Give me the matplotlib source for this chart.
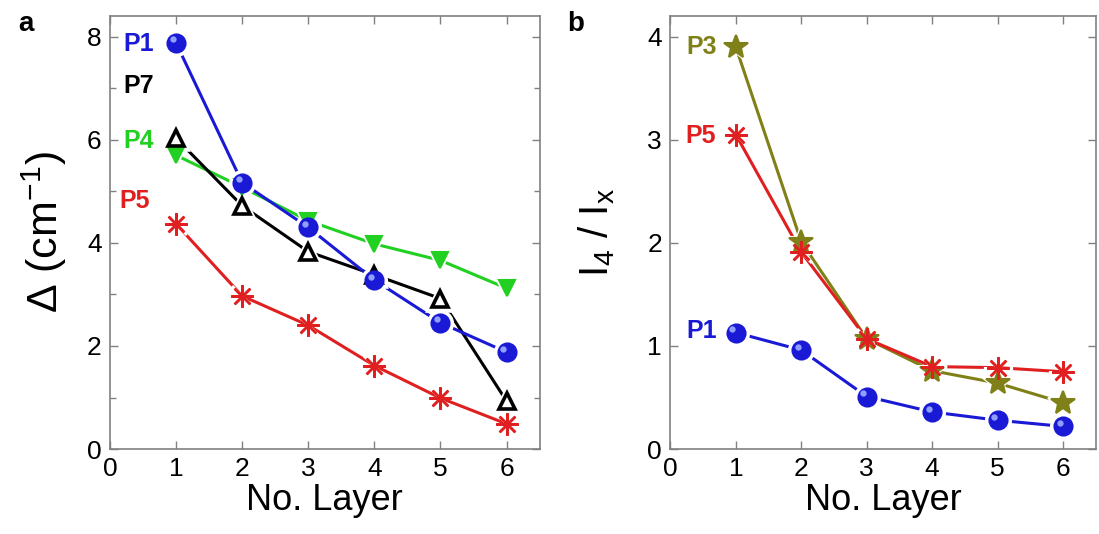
import matplotlib
matplotlib.use("Agg")
import matplotlib.pyplot as plt
from matplotlib.ticker import MultipleLocator
import matplotlib.transforms as mtransforms

plt.rcParams['font.family'] = ['Liberation Sans', 'DejaVu Sans']
plt.rcParams['mathtext.fontset'] = 'custom'
plt.rcParams['mathtext.rm'] = 'Liberation Sans'
plt.rcParams['mathtext.it'] = 'Liberation Sans'

layers = [1, 2, 3, 4, 5, 6]

# Panel a: Delta (cm^-1)
a_P1 = [7.88, 5.17, 4.30, 3.28, 2.45, 1.88]
a_P7 = [6.03, 4.72, 3.83, 3.38, 2.92, 0.93]
a_P4 = [5.70, 5.08, 4.43, 3.98, 3.66, 3.12]
a_P5 = [4.37, 2.97, 2.40, 1.62, 0.99, 0.49]

# Panel b: I4 / Ix
b_P3 = [3.90, 2.01, 1.07, 0.76, 0.64, 0.45]
b_P5 = [3.05, 1.91, 1.07, 0.80, 0.79, 0.75]
b_P1 = [1.13, 0.96, 0.51, 0.36, 0.28, 0.22]

xticks = [0, 1, 2, 3, 4, 5, 6]

BLUE = '#1a1ad6'
BLACK = '#000000'
GREEN = '#22d022'
RED = '#e02020'
OLIVE = '#808018'
SPINE = '#808080'

ASTER = (8, 2, 0)

fig = plt.figure(figsize=(10.99, 5.34), dpi=100)
axa = fig.add_axes([0.100, 0.159, 0.391, 0.811])
axb = fig.add_axes([0.610, 0.159, 0.387, 0.811])


def series(ax, y, color, marker, ms, fill=None, mew=1.5, halo=True, sphere=False):
    ax.plot(layers, y, '-', color=color, lw=2.2, zorder=2, solid_capstyle='butt')
    if halo:
        ax.plot(layers, y, linestyle='none', marker=marker, ms=ms + 5,
                mfc='white', mec='white', mew=mew, zorder=3)
    ax.plot(layers, y, linestyle='none', marker=marker, ms=ms,
            mfc=fill if fill is not None else color, mec=color, mew=mew, zorder=4)
    if sphere:
        tr = mtransforms.offset_copy(ax.transData, fig=fig, x=-2.5, y=2.5, units='points')
        ax.plot(layers, y, linestyle='none', marker='o', ms=ms * 0.35,
                mfc='#9db0ff', mec='none', alpha=0.9, zorder=5, transform=tr)


def style(ax, ylim, ymajor, yminor=None):
    ax.set_xlim(0, 6.5)
    ax.set_ylim(*ylim)
    ax.set_xticks(xticks)
    ax.yaxis.set_major_locator(MultipleLocator(ymajor))
    if yminor:
        ax.yaxis.set_minor_locator(MultipleLocator(yminor))
    ax.tick_params(axis='both', which='both', direction='in', top=True, right=True,
                   color=SPINE, labelsize=19, pad=6)
    ax.tick_params(which='major', length=6, width=1)
    ax.tick_params(which='minor', length=4, width=1)
    for s in ax.spines.values():
        s.set_color(SPINE)
        s.set_linewidth(1.2)
    ax.set_xlabel('No. Layer', fontsize=26, labelpad=1)


# Panel a
series(axa, a_P5, RED, ASTER, 16, mew=1.8)
series(axa, a_P4, GREEN, 'v', 12)
series(axa, a_P7, BLACK, '^', 12, fill='white', mew=2.6)
series(axa, a_P1, BLUE, 'o', 13, sphere=True)
style(axa, (0, 8.4), 2, 1)
axa.set_ylabel('Δ (cm$^{-1}$)', fontsize=31, labelpad=13)

lab_kw = dict(fontsize=18, fontweight='bold', ha='right', va='center')
axa.text(0.66, 7.85, 'P1', color=BLUE, **lab_kw)
axa.text(0.66, 7.05, 'P7', color=BLACK, **lab_kw)
axa.text(0.66, 5.98, 'P4', color=GREEN, **lab_kw)
axa.text(0.60, 4.82, 'P5', color=RED, **lab_kw)

# Panel b
series(axb, b_P1, BLUE, 'o', 13, sphere=True)
series(axb, b_P3, OLIVE, '*', 18)
series(axb, b_P5, RED, ASTER, 16, mew=1.8)
style(axb, (0, 4.2), 1)
axb.set_ylabel('I$_4$ / I$_x$', fontsize=29, labelpad=22)

axb.text(0.71, 3.90, 'P3', color=OLIVE, **lab_kw)
axb.text(0.70, 3.04, 'P5', color=RED, **lab_kw)
axb.text(0.71, 1.15, 'P1', color=BLUE, **lab_kw)

fig.text(0.017, 0.955, 'a', fontsize=20, fontweight='bold', va='center')
fig.text(0.516, 0.955, 'b', fontsize=20, fontweight='bold', va='center')

fig.savefig('out.png', dpi=100)
